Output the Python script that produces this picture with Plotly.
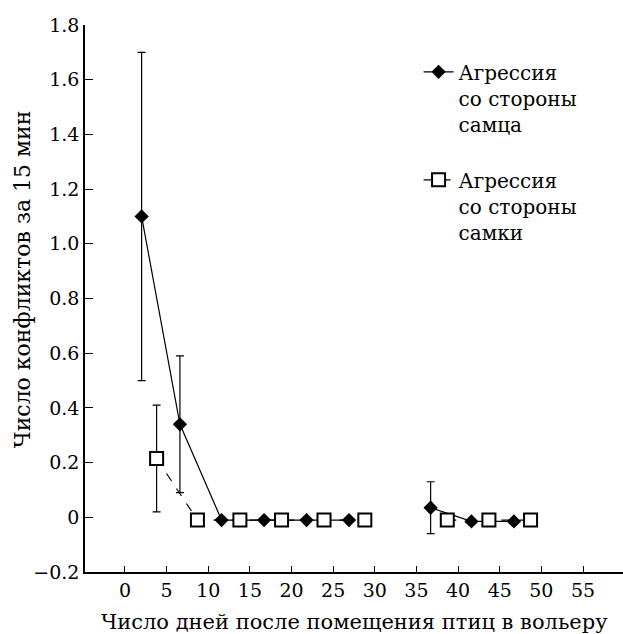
import plotly.graph_objects as go

# Male aggression (filled diamonds, solid line)
male_x = [2.0, 6.6, 11.6, 16.7, 21.8, 26.9, None, 36.7, 41.6, 46.7]
male_y = [1.10, 0.34, -0.01, -0.01, -0.01, -0.01, None, 0.035, -0.015, -0.015]
male_err = [0.60, 0.25, 0, 0, 0, 0, None, 0.095, 0, 0]

# Female aggression (open squares, dashed line)
female_x = [3.8, 8.7, 13.8, 18.8, 23.9, 28.8, None, 38.7, 43.7, 48.7]
female_y = [0.215, -0.01, -0.01, -0.01, -0.01, -0.01, None, -0.01, -0.01, -0.01]
female_err = [0.195, 0, 0, 0, 0, 0, None, 0, 0, 0]

x_ticks = [0, 5, 10, 15, 20, 25, 30, 35, 40, 45, 50, 55]
y_ticks = [-0.2, 0, 0.2, 0.4, 0.6, 0.8, 1.0, 1.2, 1.4, 1.6, 1.8]
y_ticktext = ["\u22120.2", "0", "0.2", "0.4", "0.6", "0.8", "1.0", "1.2", "1.4", "1.6", "1.8"]

FONT = "DejaVu Serif"

fig = go.Figure()
fig.add_trace(go.Scatter(
    x=male_x, y=male_y, mode="lines+markers",
    name="Агрессия<br>со стороны<br>самца", legendgroup="m",
    line=dict(color="black", width=1.2),
    marker=dict(symbol="diamond", size=11, color="black"),
    error_y=dict(type="data", array=male_err, visible=True, color="black",
                 thickness=1.2, width=4),
    connectgaps=False,
))
fig.add_trace(go.Scatter(
    x=female_x, y=female_y, mode="lines+markers",
    name="Агрессия<br>со стороны<br>самки", legendgroup="f",
    line=dict(color="black", width=1.2, dash="dash"),
    marker=dict(symbol="square", size=13, color="white",
                line=dict(color="black", width=2)),
    error_y=dict(type="data", array=female_err, visible=True, color="black",
                 thickness=1.2, width=4),
    connectgaps=False,
))

fig.update_layout(
    width=623, height=634,
    margin=dict(l=85, r=0, t=25, b=62),
    paper_bgcolor="white", plot_bgcolor="white",
    font=dict(family=FONT, size=19, color="black"),
    showlegend=True,
    legend=dict(x=0.62, y=0.95, xanchor="left", yanchor="top",
                valign="top", tracegroupgap=27,
                font=dict(family=FONT, size=20, color="black"),
                bgcolor="rgba(0,0,0,0)"),
    xaxis=dict(range=[-4.8, 59.8], tickvals=x_ticks, showgrid=False,
               zeroline=False, showline=True, linecolor="black", linewidth=1.5,
               ticks="inside", ticklen=6, tickcolor="black", tickwidth=1,
               tickfont=dict(family=FONT, size=19)),
    yaxis=dict(range=[-0.2, 1.8], tickvals=y_ticks, ticktext=y_ticktext,
               showgrid=False, zeroline=False, showline=True,
               linecolor="black", linewidth=1.5,
               ticks="inside", ticklen=8, tickcolor="black", tickwidth=1,
               tickfont=dict(family=FONT, size=19)),
    annotations=[
        dict(text="Число дней после помещения птиц в вольеру",
             xref="paper", yref="paper", x=0.5, y=0, yshift=-50,
             xanchor="center", yanchor="middle", showarrow=False,
             font=dict(family=FONT, size=21)),
        dict(text="Число конфликтов за 15 мин",
             xref="paper", yref="paper", x=0, xshift=-63, y=0.535,
             xanchor="center", yanchor="middle", showarrow=False, textangle=-90,
             font=dict(family=FONT, size=22)),
    ],
)

fig.write_html("out.html")
